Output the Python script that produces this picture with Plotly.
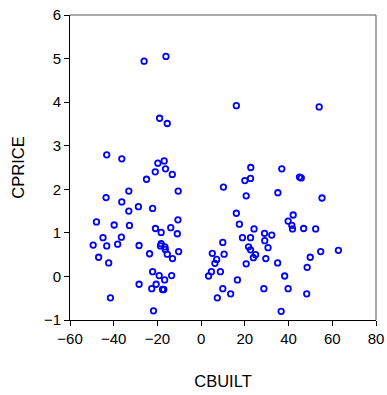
import plotly.graph_objects as go

cbuilt = [
    -26.1, -16.1, -19.0, -15.5, -43.2, -36.3, -19.8, -16.9, -16.3, -21.0,
    -13.2, -25.0, -33.1, -10.5, -43.5, -36.3, -28.7, -22.2, -33.1, -47.9,
    -39.8, -10.6, -32.8, -20.9, -13.9, -18.3, -10.9, -44.9, -36.5, -49.4,
    -43.2, -38.2, -28.4, -18.3, -18.6, -16.6, -16.4, -15.5, -23.6, -10.3,
    -13.1, -46.9, -42.3, -22.2, -19.2, -16.7, -13.5, -28.4, -20.6, -22.6,
    -17.7, -17.1, -41.5, -21.8,
    16.1, 54.0, 22.7, 36.9, 20.0, 22.6, 45.0, 45.8, 10.2, 20.6,
    35.1, 55.3, 16.1, 42.1, 39.8, 17.5, 41.5, 41.8, 46.9, 52.4,
    24.2, 29.0, 32.3, 18.9, 22.6, 29.1, 9.9, 21.7, 22.6, 30.6,
    5.1, 10.5, 24.9, 23.9, 29.6, 7.1, 6.3, 20.6, 35.0, 49.9,
    54.7, 62.8, 48.5, 4.7, 8.8, 3.4, 38.2, 16.6, 9.9, 28.7,
    39.8, 13.5, 48.3, 7.4, 36.6,
]
cprice = [
    4.94, 5.05, 3.63, 3.51, 2.79, 2.70, 2.60, 2.65, 2.47, 2.40,
    2.34, 2.23, 1.96, 1.96, 1.81, 1.71, 1.60, 1.56, 1.50, 1.25,
    1.18, 1.30, 1.17, 1.10, 1.12, 1.01, 0.98, 0.89, 0.90, 0.72,
    0.70, 0.74, 0.71, 0.75, 0.70, 0.68, 0.62, 0.51, 0.52, 0.57,
    0.41, 0.44, 0.31, 0.11, 0.02, -0.08, 0.02, -0.18, -0.18, -0.28,
    -0.30, -0.30, -0.49, -0.79,
    3.92, 3.89, 2.50, 2.47, 2.20, 2.25, 2.28, 2.26, 2.05, 1.85,
    1.92, 1.80, 1.45, 1.41, 1.27, 1.20, 1.17, 1.09, 1.10, 1.09,
    1.09, 0.99, 0.95, 0.89, 0.89, 0.82, 0.78, 0.68, 0.61, 0.66,
    0.53, 0.51, 0.50, 0.43, 0.41, 0.39, 0.30, 0.29, 0.31, 0.44,
    0.57, 0.60, 0.21, 0.11, 0.11, 0.01, 0.01, -0.08, -0.28, -0.28,
    -0.28, -0.40, -0.40, -0.49, -0.80,
]

x_ticks = [-60, -40, -20, 0, 20, 40, 60, 80]
y_ticks = [-1, 0, 1, 2, 3, 4, 5, 6]

fig = go.Figure(go.Scatter(
    x=cbuilt, y=cprice, mode="markers",
    marker=dict(symbol="circle-open", size=5.5, color="#0000FF",
                line=dict(width=1.8, color="#0000FF")),
    showlegend=False,
))

axis_common = dict(
    showgrid=False, zeroline=False, showline=True, linecolor="#000000",
    linewidth=1, ticks="outside", ticklen=5, tickcolor="#000000",
    automargin=False,
    tickfont=dict(family="Liberation Sans, Arial, sans-serif", size=15, color="#000000"),
    title_font=dict(family="Liberation Sans, Arial, sans-serif", size=16.5, color="#000000"),
)

fig.update_xaxes(range=[-60, 80], tickvals=x_ticks, title_text="CBUILT",
                 title_standoff=29, **axis_common)
fig.update_yaxes(range=[-1, 6], tickvals=y_ticks, title_text="CPRICE",
                 title_standoff=15, **axis_common)

fig.add_shape(type="line", xref="paper", yref="paper", x0=0, x1=1, y0=1, y1=1,
              line=dict(color="#555555", width=1))
fig.add_shape(type="line", xref="paper", yref="paper", x0=1, x1=1, y0=0, y1=1,
              line=dict(color="#555555", width=1))

fig.update_layout(
    width=387, height=395,
    margin=dict(l=70, r=11, t=15, b=75),
    plot_bgcolor="white", paper_bgcolor="white",
)

fig.write_html("out.html")
